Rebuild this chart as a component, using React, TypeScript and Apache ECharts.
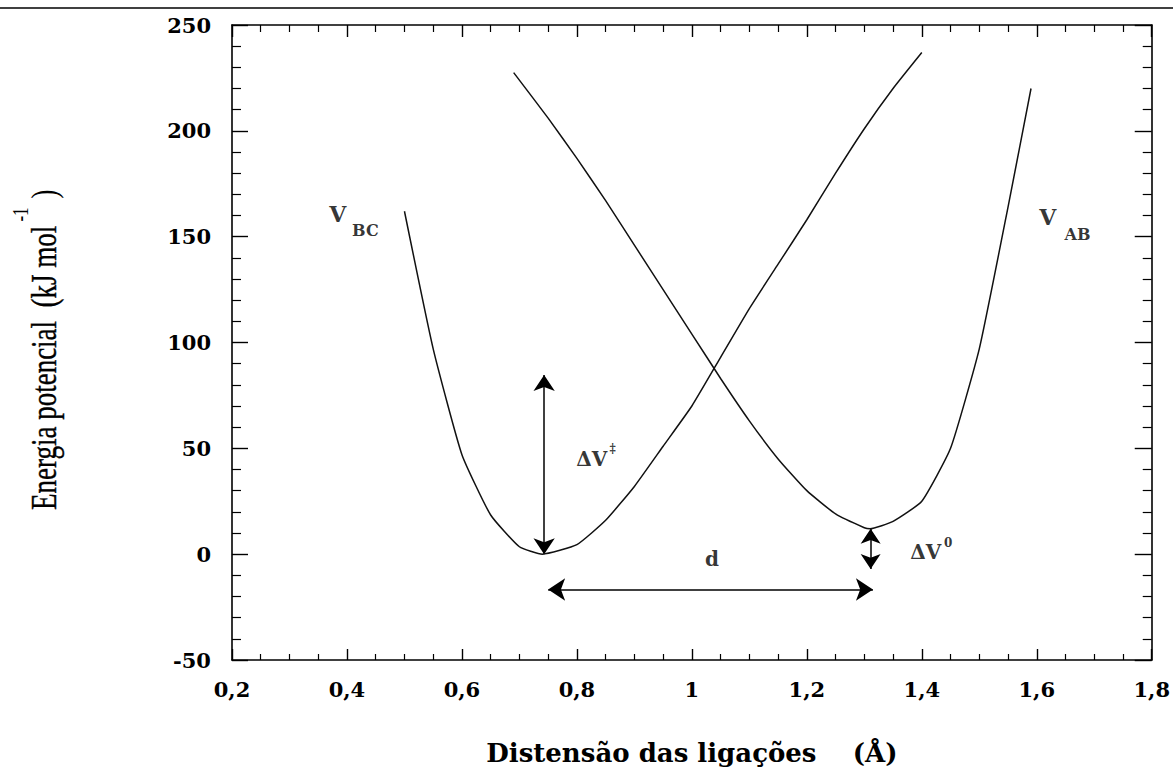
import React, { useEffect, useRef } from "react";
import * as echarts from "echarts";

// ---- axis ticks ----
const xTicks = [0.2, 0.4, 0.6, 0.8, 1.0, 1.2, 1.4, 1.6, 1.8];
const xTickLabels = ["0,2", "0,4", "0,6", "0,8", "1", "1,2", "1,4", "1,6", "1,8"];
const yTicks = [-50, 0, 50, 100, 150, 200, 250];
const yTickLabels = ["-50", "0", "50", "100", "150", "200", "250"];

// ---- curves ----
const vbcX = [0.5, 0.55, 0.6, 0.65, 0.7, 0.74, 0.8, 0.85, 0.9, 0.95, 1.0, 1.05, 1.1, 1.15, 1.2, 1.25, 1.3, 1.35, 1.4];
const vbcY = [162, 97, 47, 18.5, 3.5, 0, 4.5, 16, 32, 51, 70, 93, 116, 137, 158, 180, 201, 220, 237];

const vabX = [0.69, 0.75, 0.8, 0.85, 0.9, 0.95, 1.0, 1.05, 1.1, 1.15, 1.2, 1.25, 1.3, 1.31, 1.35, 1.4, 1.45, 1.5, 1.55, 1.59];
const vabY = [227.5, 206, 187, 167, 146, 125, 104, 83, 63, 45, 30, 19, 12.5, 12, 15.5, 25, 50, 97, 164, 220];

// ---- arrows (tip to tip) ----
const arrowDvTs = [[0.743, 0], [0.743, 84.7]];
const arrowDv0 = [[1.311, 12], [1.311, -7]];
const arrowD = [[0.75, -16.7], [1.315, -16.7]];

// ---- annotation texts ----
const noteTexts = ["V", "BC", "V", "AB", "ΔV", "‡", "ΔV", "0", "d"];
const noteX = [0.384, 0.432, 1.619, 1.671, 0.826, 0.862, 1.407, 1.446, 1.035];
const noteY = [160.8, 152.8, 159.4, 151, 44.8, 49.5, 1.2, 5.5, -2.1];
const noteSizes = [22, 16, 22, 16, 20, 12, 20, 12, 20];

const xName = "Distensão das ligações    (Å)";
const yNameMain = "Energia potencial  (kJ mol";
const yNameSup = "-1";
const yNameEnd = ")";

const SERIF = "DejaVu Serif";

function nearestLabel(v: number, ticks: number[], labels: string[]) {
  let best = 0;
  for (let i = 1; i < ticks.length; i++) {
    if (Math.abs(ticks[i] - v) < Math.abs(ticks[best] - v)) best = i;
  }
  return Math.abs(ticks[best] - v) < 1e-6 * Math.max(1, Math.abs(v)) + 1e-6 ? labels[best] : "";
}

function axisCommon(len: number, minorLen: number, split: number) {
  return {
    axisLine: { show: true, onZero: false, lineStyle: { color: "#000", width: 1.6 } },
    axisTick: { show: true, inside: true, length: len, lineStyle: { color: "#000", width: 1.4 } },
    minorTick: { show: true, splitNumber: split, length: minorLen, lineStyle: { color: "#000", width: 1.2 } },
    splitLine: { show: false },
    minorSplitLine: { show: false },
  };
}

export default function App() {
  const ref = useRef<HTMLDivElement>(null);
  useEffect(() => {
    if (!ref.current) return;
    const chart = echarts.init(ref.current, undefined, { renderer: "svg" });

    const canvas = document.createElement("canvas");
    const ctx = canvas.getContext("2d")!;
    ctx.font = '27px "Liberation Serif"';
    const w1 = ctx.measureText(yNameMain).width;
    ctx.font = '17px "Liberation Serif"';
    const w2 = ctx.measureText(yNameSup).width;

    const yBase = 510;
    const titleFont = '27px "Liberation Serif"';

    const labelStyle = {
      color: "#000",
      fontFamily: SERIF,
      fontWeight: "bold" as const,
      fontSize: 21,
    };

    const option: any = {
      animation: false,
      grid: { left: 232, right: 21, top: 25, bottom: 107, containLabel: false },
      xAxis: [
        {
          type: "value",
          position: "bottom",
          min: 0.2,
          max: 1.8,
          interval: 0.2,
          ...axisCommon(11, 6, 4),
          axisLabel: {
            ...labelStyle,
            margin: 19,
            formatter: (v: number) => nearestLabel(v, xTicks, xTickLabels),
          },
          name: xName,
          nameLocation: "middle",
          nameGap: 80,
          nameTextStyle: { color: "#000", fontFamily: SERIF, fontWeight: "bold", fontSize: 26 },
        },
        {
          type: "value",
          position: "top",
          min: 0.2,
          max: 1.8,
          interval: 0.2,
          ...axisCommon(12, 7, 4),
          axisLabel: { show: false },
        },
      ],
      yAxis: [
        {
          type: "value",
          position: "left",
          min: -50,
          max: 250,
          interval: 50,
          ...axisCommon(16, 9, 5),
          axisLabel: {
            ...labelStyle,
            margin: 21,
            formatter: (v: number) => nearestLabel(v, yTicks, yTickLabels),
          },
        },
        {
          type: "value",
          position: "right",
          min: -50,
          max: 250,
          interval: 50,
          ...axisCommon(17, 9, 5),
          axisLabel: { show: false },
        },
      ],
      series: [
        {
          name: "V_BC",
          type: "line",
          xAxisIndex: 0,
          yAxisIndex: 0,
          data: vbcX.map((x, i) => [x, vbcY[i]]),
          showSymbol: false,
          symbol: "none",
          smooth: 0.15,
          lineStyle: { color: "#111", width: 1.5 },
          silent: true,
        },
        {
          name: "V_AB",
          type: "line",
          xAxisIndex: 0,
          yAxisIndex: 0,
          data: vabX.map((x, i) => [x, vabY[i]]),
          showSymbol: false,
          symbol: "none",
          smooth: 0.15,
          lineStyle: { color: "#111", width: 1.5 },
          silent: true,
        },
        ...[
          { coords: arrowDvTs, size: 16 },
          { coords: arrowDv0, size: 15 },
          { coords: arrowD, size: 17 },
        ].map((a) => ({
          type: "lines",
          coordinateSystem: "cartesian2d",
          xAxisIndex: 0,
          yAxisIndex: 0,
          symbol: ["arrow", "arrow"],
          symbolSize: a.size,
          color: "#000",
          itemStyle: { color: "#000" },
          lineStyle: { color: "#000", width: 1.5, opacity: 1, curveness: 0 },
          data: [{ coords: a.coords }],
          silent: true,
        })),
        {
          type: "scatter",
          xAxisIndex: 0,
          yAxisIndex: 0,
          symbolSize: 1,
          itemStyle: { color: "rgba(0,0,0,0)" },
          silent: true,
          data: noteTexts.map((t, i) => ({
            value: [noteX[i], noteY[i]],
            label: {
              show: true,
              position: "inside",
              formatter: t,
              color: "#000",
              fontFamily: SERIF,
              fontWeight: "bold",
              fontSize: noteSizes[i],
            },
          })),
        },
      ],
      graphic: [
        {
          type: "line",
          shape: { x1: 0, y1: 8, x2: 1173, y2: 8 },
          style: { stroke: "#000", lineWidth: 1.5 },
          silent: true,
        },
        {
          type: "text",
          x: 43,
          y: yBase,
          rotation: Math.PI / 2,
          scaleY: 1.35,
          style: {
            text: yNameMain,
            font: titleFont,
            fill: "#000",
            stroke: "#000",
            lineWidth: 0.3,
            textAlign: "left",
            textVerticalAlign: "middle",
            verticalAlign: "middle",
          },
        },
        {
          type: "text",
          x: 20,
          y: yBase - w1 - 4,
          rotation: Math.PI / 2,
          scaleY: 1.35,
          style: {
            text: yNameSup,
            font: '17px "Liberation Serif"',
            fill: "#000",
            textAlign: "left",
            textVerticalAlign: "middle",
            verticalAlign: "middle",
          },
        },
        {
          type: "text",
          x: 43,
          y: yBase - w1 - 4 - w2 - 9,
          rotation: Math.PI / 2,
          scaleY: 1.35,
          style: {
            text: yNameEnd,
            font: titleFont,
            fill: "#000",
            textAlign: "left",
            textVerticalAlign: "middle",
            verticalAlign: "middle",
          },
        },
      ],
    };
    chart.setOption(option);
    return () => chart.dispose();
  }, []);

  return (
    <div
      ref={ref}
      style={{ position: "absolute", left: 0, top: 0, width: 1173, height: 771, background: "#fff" }}
    />
  );
}
